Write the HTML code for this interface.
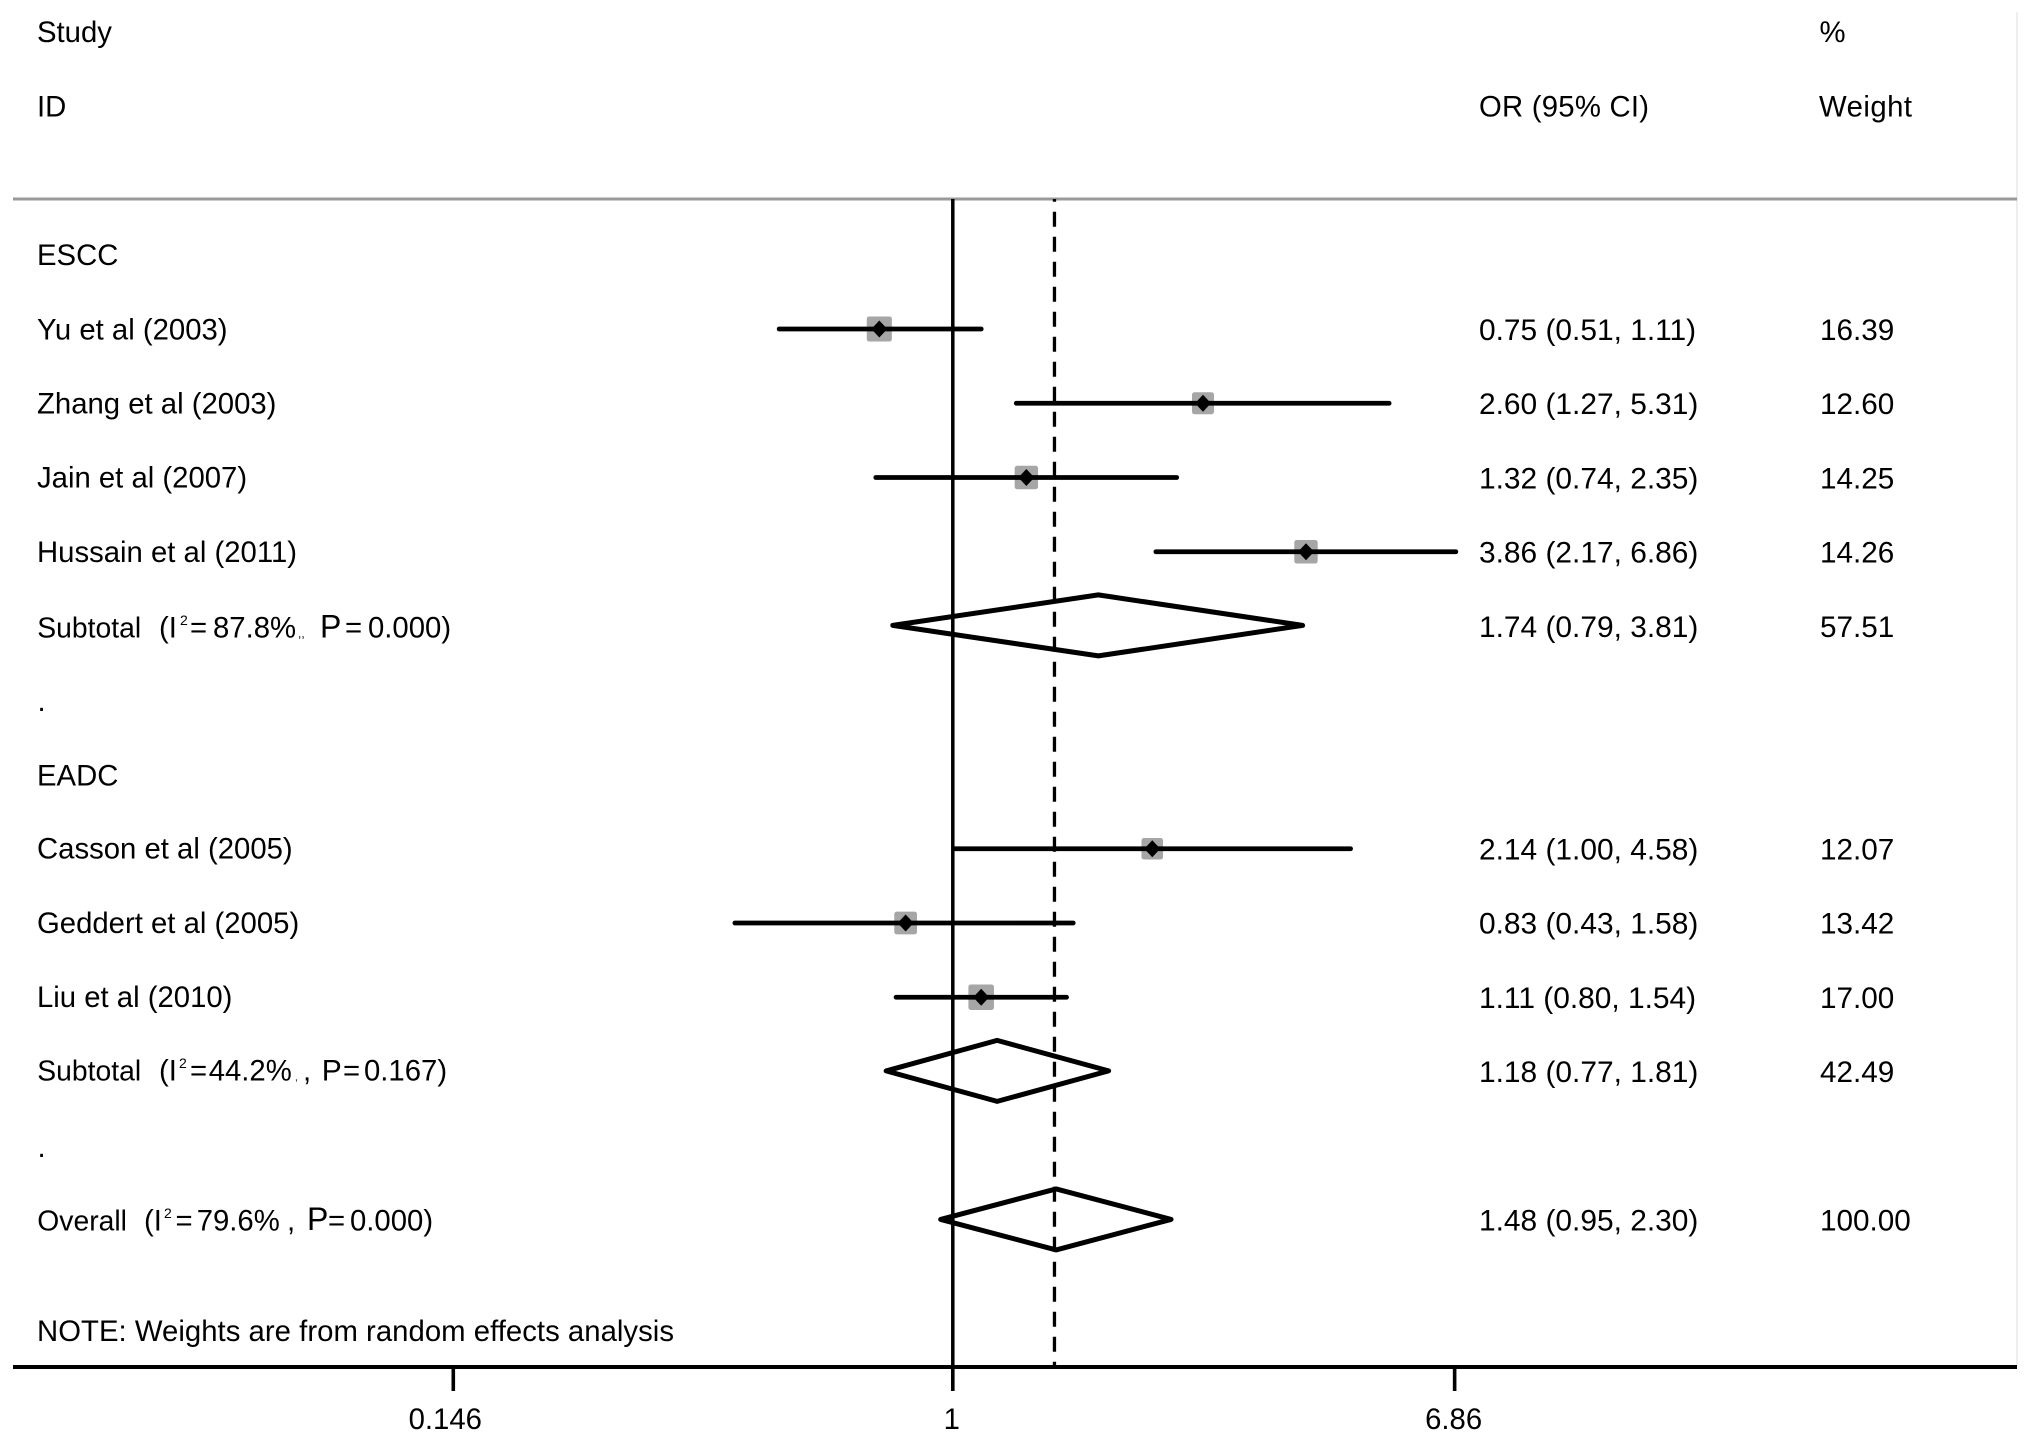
<!DOCTYPE html>
<html lang="en">
<head>
<meta charset="utf-8">
<title>Forest plot</title>
<style>
html,body{margin:0;padding:0;background:#fff;}
svg{display:block;}
text{font-family:"Liberation Sans",Arial,sans-serif;font-size:29.3px;fill:#000;}
</style>
</head>
<body>
<svg id="chart" xmlns="http://www.w3.org/2000/svg" width="2031" height="1442" viewBox="0 0 2031 1442">
  <rect x="0" y="0" width="2031" height="1442" fill="#fff"/>
  <line x1="2017" y1="12" x2="2017" y2="1365" stroke="#eeeeee" stroke-width="2"/>
  <line x1="13" y1="199" x2="2017" y2="199" stroke="#999999" stroke-width="3"/>
  <text x="37" y="42">Study</text>
  <text x="37" y="116.7">ID</text>
  <text x="1479" y="116.7" textLength="170" lengthAdjust="spacing">OR (95% CI)</text>
  <text x="1819.5" y="42">%</text>
  <text x="1819" y="116.7" textLength="93" lengthAdjust="spacing">Weight</text>

  <text x="37" y="265">ESCC</text>
  <text x="37.5" y="711">.</text>
  <text x="37" y="785.5">EADC</text>
  <text x="37.5" y="1157">.</text>
  <text x="37" y="1341" textLength="637" lengthAdjust="spacing">NOTE: Weights are from random effects analysis</text>

  <g>
    <text x="37.3" y="637.5" style="font-size:28.3px">Subtotal</text>
    <text x="159" y="637.5">(I</text>
    <text x="180" y="625" style="font-size:14px">2</text>
    <text x="190" y="637.5">=</text>
    <text x="213" y="637.5">87.8%</text>
    <text x="298" y="637.5" style="font-size:12px">,,</text>
    <text x="320" y="637.5" style="font-size:32px">P</text>
    <text x="345" y="637.5">=</text>
    <text x="368" y="637.5">0.000)</text>
  </g>
  <g>
    <text x="37.3" y="1080.7" style="font-size:28.3px">Subtotal</text>
    <text x="159" y="1080.7">(I</text>
    <text x="179" y="1068" style="font-size:14px">2</text>
    <text x="190" y="1080.7">=</text>
    <text x="208.7" y="1080.7">44.2%</text>
    <text x="295" y="1080.7" style="font-size:10px">,</text>
    <text x="303" y="1080.7">,</text>
    <text x="321.7" y="1080.7" style="font-size:30px">P</text>
    <text x="343" y="1080.7">=</text>
    <text x="364" y="1080.7">0.167)</text>
  </g>
  <g>
    <text x="37.3" y="1230.7" style="font-size:28.3px">Overall</text>
    <text x="144" y="1230.7">(I</text>
    <text x="164" y="1218" style="font-size:14px">2</text>
    <text x="175.5" y="1230.7">=</text>
    <text x="196.7" y="1230.7">79.6%</text>
    <text x="287" y="1230.7">,</text>
    <text x="307" y="1230" style="font-size:32px">P</text>
    <text x="328" y="1230.7">=</text>
    <text x="350" y="1230.7">0.000)</text>
  </g>
  <g id="marks"></g>
  <g id="rows"></g>
  <g id="axis"></g>
</svg>
<script>
const studyNames = ["Yu et al (2003)", "Zhang et al (2003)", "Jain et al (2007)", "Hussain et al (2011)", "Casson et al (2005)", "Geddert et al (2005)", "Liu et al (2010)"];
const studyRows = [4, 5, 6, 7, 11, 12, 13];
const studyOR = [0.75, 2.60, 1.32, 3.86, 2.14, 0.83, 1.11];
const studyLow = [0.51, 1.27, 0.74, 2.17, 1.00, 0.43, 0.80];
const studyHigh = [1.11, 5.31, 2.35, 6.86, 4.58, 1.58, 1.54];
const studyWeight = [16.39, 12.60, 14.25, 14.26, 12.07, 13.42, 17.00];

const summaryNames = ["subtotal-escc", "subtotal-eadc", "overall"];
const summaryRows = [8, 14, 16];
const summaryOR = [1.74, 1.18, 1.48];
const summaryLow = [0.79, 0.77, 0.95];
const summaryHigh = [3.81, 1.81, 2.30];
const summaryWeight = [57.51, 42.49, 100.00];

const tickValues = [0.146, 1, 6.86];
const tickLabels = ["0.146", "1", "6.86"];
const nullValue = 1;
const overallValue = 1.48;

const NS = "http://www.w3.org/2000/svg";
const xScale = v => 952.8 + (v < 1 ? 259.6 : 260.6) * Math.log(v);
const xMark = v => xScale(v) + 1.2;
const rowMark = r => 329 + (r - 4) * 74.25;
const rowText = r => 42.5 + r * 74.2;
const AXIS_Y = 1367, TOP_Y = 199;

function make(parent, tag, attrs) {
  const el = document.createElementNS(NS, tag);
  for (const k in attrs) el.setAttribute(k, attrs[k]);
  parent.appendChild(el);
  return el;
}
function ciText(or, lo, hi) {
  return or.toFixed(2) + " (" + lo.toFixed(2) + ", " + hi.toFixed(2) + ")";
}

const marks = document.getElementById("marks");
const rows = document.getElementById("rows");
const axis = document.getElementById("axis");

const nullLine = make(marks, "line", {x1: xScale(nullValue), x2: xScale(nullValue), y1: TOP_Y, y2: AXIS_Y, stroke: "#000", "stroke-width": 3.5});


const overallLine = make(marks, "line", {x1: xScale(overallValue) - 0.5, x2: xScale(overallValue) - 0.5, y1: TOP_Y, y2: AXIS_Y, stroke: "#000", "stroke-width": 3.3, "stroke-dasharray": "15 10", "stroke-dashoffset": 12.3});



studyNames.forEach((name, i) => {
  const yMark = rowMark(studyRows[i]);
  const yText = rowText(studyRows[i]);
  const x = xMark(studyOR[i]);
  const size = Math.sqrt(studyWeight[i]) * 6.2;
  const box = make(marks, "rect", {x: x - size / 2, y: yMark - size / 2, width: size, height: size, rx: 2.5, fill: "#a6a6a6"});
  
  
  const ci = make(marks, "line", {x1: xMark(studyLow[i]), x2: xMark(studyHigh[i]), y1: yMark, y2: yMark, stroke: "#000", "stroke-width": 4.8, "stroke-linecap": "round"});
  
  
  const dot = make(marks, "polygon", {points: [[x - 8, yMark], [x, yMark - 8.5], [x + 8, yMark], [x, yMark + 8.5]].join(" "), fill: "#000"});
  
  

  const label = make(rows, "text", {x: 37, y: yText});
  
  
  label.textContent = name;
  const orText = make(rows, "text", {x: 1479, y: yText + 0.7, style: "font-size:29.9px"});
  
  
  orText.textContent = ciText(studyOR[i], studyLow[i], studyHigh[i]);
  const wText = make(rows, "text", {x: 1820, y: yText + 0.7, style: "font-size:29.7px"});
  
  
  wText.textContent = studyWeight[i].toFixed(2);
});

summaryNames.forEach((name, i) => {
  const yMark = rowMark(summaryRows[i]) - 0.6;
  const yText = rowText(summaryRows[i]);
  const h = 30.5;
  const diamond = make(marks, "polygon", {
    points: [[xMark(summaryLow[i]), yMark], [xMark(summaryOR[i]), yMark - h], [xMark(summaryHigh[i]), yMark], [xMark(summaryOR[i]), yMark + h]].join(" "),
    fill: "none", stroke: "#000", "stroke-width": 5, "stroke-linejoin": "round"
  });
  
  
  const orText = make(rows, "text", {x: 1479, y: yText + 0.7, style: "font-size:29.9px"});
  
  
  orText.textContent = ciText(summaryOR[i], summaryLow[i], summaryHigh[i]);
  const wText = make(rows, "text", {x: 1820, y: yText + 0.7, style: "font-size:29.7px"});
  
  
  wText.textContent = summaryWeight[i].toFixed(2);
});

const axisLine = make(axis, "line", {x1: 13, x2: 2017, y1: AXIS_Y, y2: AXIS_Y, stroke: "#000", "stroke-width": 4});


tickValues.forEach((v, i) => {
  const x = xScale(v);
  const tick = make(axis, "line", {x1: x, x2: x, y1: AXIS_Y, y2: 1391, stroke: "#000", "stroke-width": 3.6});
  
  
  const label = make(axis, "text", {x: v < 1 ? x - 8 : x - 1, y: 1429, "text-anchor": "middle"});
  
  
  label.textContent = tickLabels[i];
});
</script>
</body>
</html>
